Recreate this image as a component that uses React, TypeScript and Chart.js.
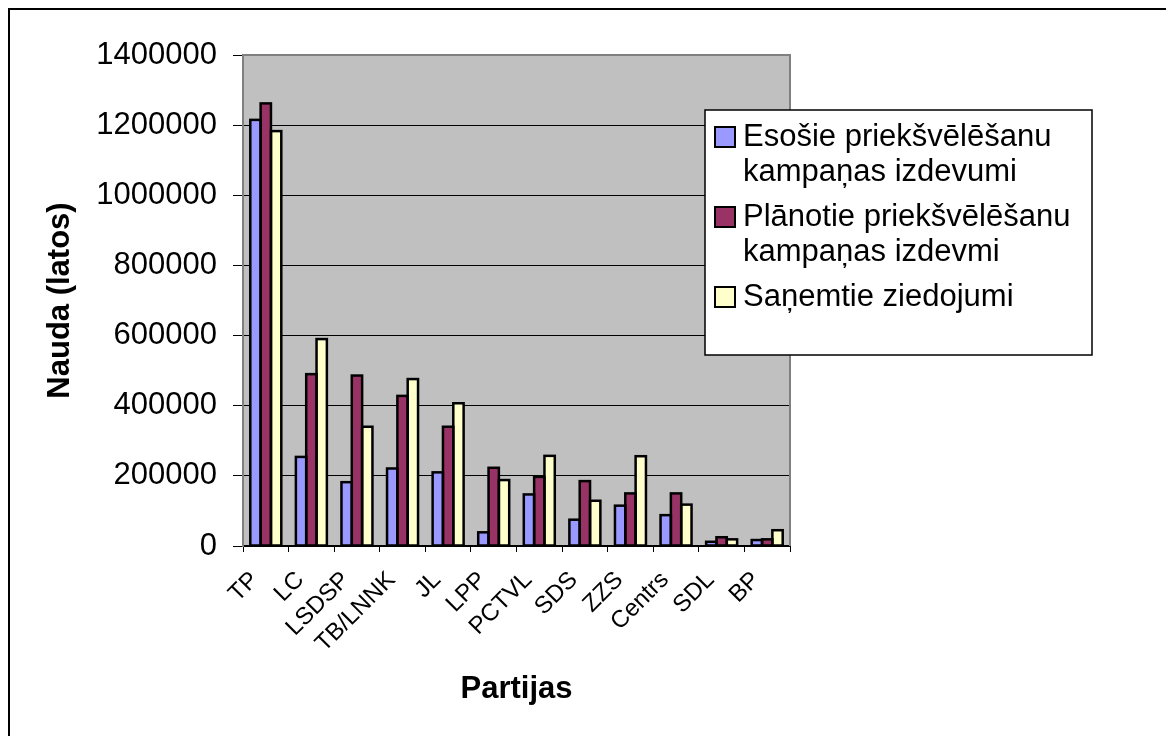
import React, { useEffect, useRef } from "react";
import { Chart, registerables } from "chart.js";

Chart.register(...registerables);

const categories = ["TP", "LC", "LSDSP", "TB/LNNK", "JL", "LPP", "PCTVL", "SDS", "ZZS", "Centrs", "SDL", "BP"];
const existingSpend = [1215000, 254000, 182000, 221000, 210000, 39000, 147000, 75000, 115000, 88000, 12000, 17000];
const plannedSpend = [1262000, 490000, 486000, 428000, 340000, 223000, 197000, 185000, 150000, 150000, 25000, 19000];
const donations = [1183000, 590000, 340000, 476000, 407000, 188000, 257000, 129000, 256000, 118000, 19000, 45000];
const seriesNames = [
  "Esošie priekšvēlēšanu kampaņas izdevumi",
  "Plānotie priekšvēlēšanu kampaņas izdevmi",
  "Saņemtie ziedojumi",
];
const seriesColors = ["#9999FF", "#993366", "#FFFFCC"];
const yMin = 0;
const yMax = 1400000;
const yStep = 200000;
const yTitle = "Nauda (latos)";
const xTitle = "Partijas";

const FONT = "'Liberation Sans', Arial, sans-serif";

const plotFrame = {
  id: "plotFrame",
  beforeDraw(chart: any) {
    const { ctx, chartArea: a } = chart;
    ctx.save();
    ctx.fillStyle = "#C0C0C0";
    ctx.fillRect(a.left, a.top, a.right - a.left, a.bottom - a.top);
    ctx.restore();
  },
  beforeDatasetsDraw(chart: any) {
    const { ctx, chartArea: a } = chart;
    ctx.save();
    ctx.strokeStyle = "#808080";
    ctx.lineWidth = 2;
    ctx.beginPath();
    ctx.moveTo(a.left, a.top);
    ctx.lineTo(a.right, a.top);
    ctx.lineTo(a.right, a.bottom);
    ctx.stroke();
    ctx.restore();
  },
  afterDatasetsDraw(chart: any) {
    // Excel-style outlines centred on the bar edges (shared between neighbours)
    const { ctx } = chart;
    ctx.save();
    ctx.strokeStyle = "#000";
    ctx.lineWidth = 2.5;
    ctx.lineJoin = "miter";
    chart.data.datasets.forEach((_: any, di: number) => {
      const meta = chart.getDatasetMeta(di);
      meta.data.forEach((el: any) => {
        const { x, y, base, width } = el.getProps(["x", "y", "base", "width"], true);
        ctx.strokeRect(x - width / 2, y, width, base - y);
      });
    });
    ctx.restore();
  },
};

const boxLegend = {
  id: "boxLegend",
  afterDraw(chart: any) {
    const { ctx, chartArea: a } = chart;
    const left = a.right - 85;
    const top = a.top + 55;
    const width = 387;
    const height = 245;
    const lineH = 35;
    const maxW = 345;
    ctx.save();
    ctx.fillStyle = "#FFFFFF";
    ctx.fillRect(left, top, width, height);
    ctx.strokeStyle = "#000000";
    ctx.lineWidth = 1.5;
    ctx.strokeRect(left, top, width, height);
    ctx.font = `31px ${FONT}`;
    ctx.textBaseline = "middle";
    ctx.textAlign = "left";
    let y = top + 27;
    chart.data.datasets.forEach((ds: any) => {
      const words = String(ds.label).split(" ");
      const lines: string[] = [];
      let cur = "";
      words.forEach((w) => {
        const t = cur ? cur + " " + w : w;
        if (cur && ctx.measureText(t).width > maxW) {
          lines.push(cur);
          cur = w;
        } else cur = t;
      });
      if (cur) lines.push(cur);
      ctx.fillStyle = ds.backgroundColor;
      ctx.fillRect(left + 10, y - 10, 20, 20);
      ctx.strokeStyle = "#000";
      ctx.lineWidth = 2;
      ctx.strokeRect(left + 10, y - 10, 20, 20);
      ctx.fillStyle = "#000";
      lines.forEach((ln, i) => ctx.fillText(ln, left + 38, y + i * lineH));
      y += lines.length * lineH + 10;
    });
    ctx.restore();
  },
};

export default function App() {
  const ref = useRef<HTMLCanvasElement | null>(null);
  useEffect(() => {
    if (!ref.current) return;
    const mk = (i: number, data: number[]) => ({
      label: seriesNames[i],
      data,
      backgroundColor: seriesColors[i],
      borderColor: "#000000",
      borderWidth: 0,
      categoryPercentage: 0.68,
      barPercentage: 1.0,
    });
    const chart = new Chart(ref.current, {
      type: "bar",
      data: {
        labels: categories,
        datasets: [mk(0, existingSpend), mk(1, plannedSpend), mk(2, donations)],
      },
      options: {
        animation: false,
        responsive: false,
        devicePixelRatio: 1,
        layout: { padding: { top: 45, right: 384, left: 0, bottom: 0 } },
        plugins: { legend: { display: false }, tooltip: { enabled: false }, title: { display: false } },
        scales: {
          x: {
            grid: { offset: true, drawOnChartArea: false, drawTicks: true, tickLength: 6, color: "#000", lineWidth: 1 },
            border: { color: "#000", width: 2 },
            ticks: {
              autoSkip: false,
              minRotation: 45,
              maxRotation: 45,
              padding: 14,
              labelOffset: -11,
              color: "#000",
              font: { family: FONT, size: 24 },
            },
            title: {
              display: true,
              text: xTitle,
              color: "#000",
              font: { family: FONT, size: 31, weight: "bold" },
              padding: { top: 0, bottom: 28 },
            },
            afterFit(scale: any) {
              scale.height = 190;
            },
          },
          y: {
            min: yMin,
            max: yMax,
            ticks: {
              stepSize: yStep,
              padding: 16,
              color: "#000",
              font: { family: FONT, size: 31 },
              callback: (v: any) => String(v),
            },
            grid: { color: "#000", lineWidth: 1, tickLength: 10, drawTicks: true },
            border: { color: "#808080", width: 2 },
            title: {
              display: true,
              text: yTitle,
              color: "#000",
              font: { family: FONT, size: 31, weight: "bold" },
              padding: { top: 32, bottom: 0 },
            },
            afterFit(scale: any) {
              scale.width = 233;
            },
          },
        },
      },
      plugins: [plotFrame, boxLegend],
    });
    return () => chart.destroy();
  }, []);
  return (
    <div
      style={{
        width: 1166,
        height: 728,
        borderTop: "2px solid #000",
        borderLeft: "2px solid #000",
        boxSizing: "border-box",
        background: "#fff",
      }}
    >
      <canvas ref={ref} width={1164} height={726} style={{ display: "block", width: 1164, height: 726 }} />
    </div>
  );
}
